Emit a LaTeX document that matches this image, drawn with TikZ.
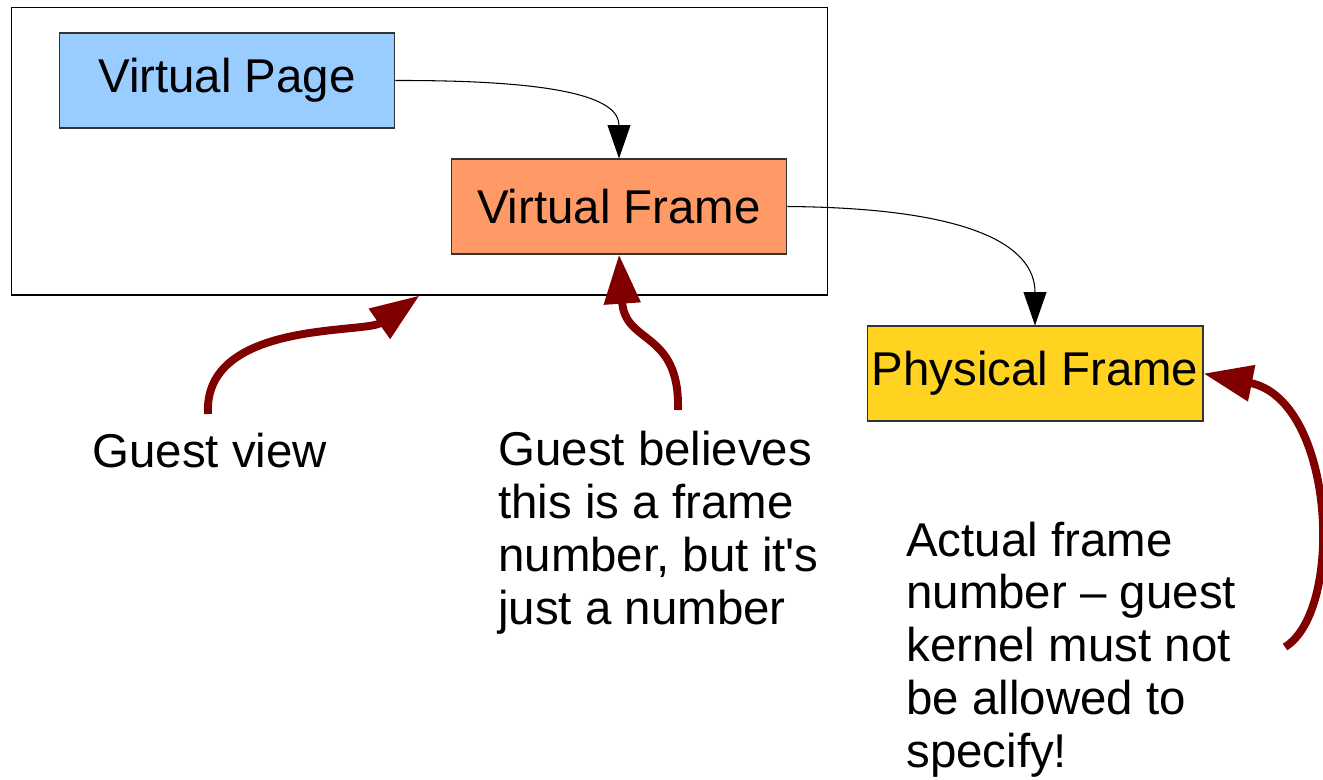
\documentclass[tikz,border=0pt]{standalone}
\usepackage{fontspec}
\setmainfont{Liberation Sans}[Ligatures=TeXOff]
\usetikzlibrary{arrows.meta}
\definecolor{vpblue}{HTML}{99CCFF}
\definecolor{vforange}{HTML}{FF9966}
\definecolor{pfyellow}{HTML}{FFD320}
\definecolor{darkred}{HTML}{800000}
\definecolor{boxline}{HTML}{333333}
\tikzset{
  box/.style={draw=boxline, line width=0.6pt, minimum width=6.72cm, minimum height=1.9cm, inner sep=0pt,
    font=\fontsize{27}{30}\selectfont},
  thinarrow/.style={draw=black, line width=0.6pt, -{Triangle[length=19pt,width=13pt]}},
  redarrow/.style={draw=darkred, line width=4.5pt, -{Triangle[length=28pt,width=20pt]}},
  label/.style={align=left, inner sep=0pt, anchor=base west, font=\fontsize{27}{30}\selectfont}
}
\begin{document}
\begin{tikzpicture}[x=0.02cm, y=-0.02cm]
\useasboundingbox (0,0) rectangle (1323,779);
\node[draw=black, line width=0.6pt, minimum width=16.34cm, minimum height=5.76cm, inner sep=0pt] (outer) at (419.5,151) {};
\node[box, fill=vpblue] (vp) at (227,80.5) {Virtual Page};
\node[box, fill=vforange] (vf) at (619,206.5) {Virtual Frame};
\node[box, fill=pfyellow] (pf) at (1035,373.5) {Physical Frame};
\draw[thinarrow] (vp.east) .. controls (570,80) and (619,100) .. (vf.north);
\draw[thinarrow] (vf.east) .. controls (970,208) and (1035,245) .. (pf.north);
\node[label] (gv) at (92,467) {Guest view};
\node[label] (gb) at (498,624) {Guest believes\\this is a frame\\number, but it's\\just a number};
\node[label] (af) at (906,767) {Actual frame\\number – guest\\kernel must not\\be allowed to\\specify!};
\coordinate (s1) at (208,414);
\coordinate (s2) at (678,410);
\coordinate (s3) at (1285,647);
\draw[redarrow] (s1) .. controls (203,320) and (365,334) .. (outer.south);
\draw[redarrow] (s2) .. controls (680,330) and (625,345) .. (vf.south);
\draw[redarrow] (s3) .. controls (1345,610) and (1335,400) .. (pf.east);
\end{tikzpicture}
\end{document}
